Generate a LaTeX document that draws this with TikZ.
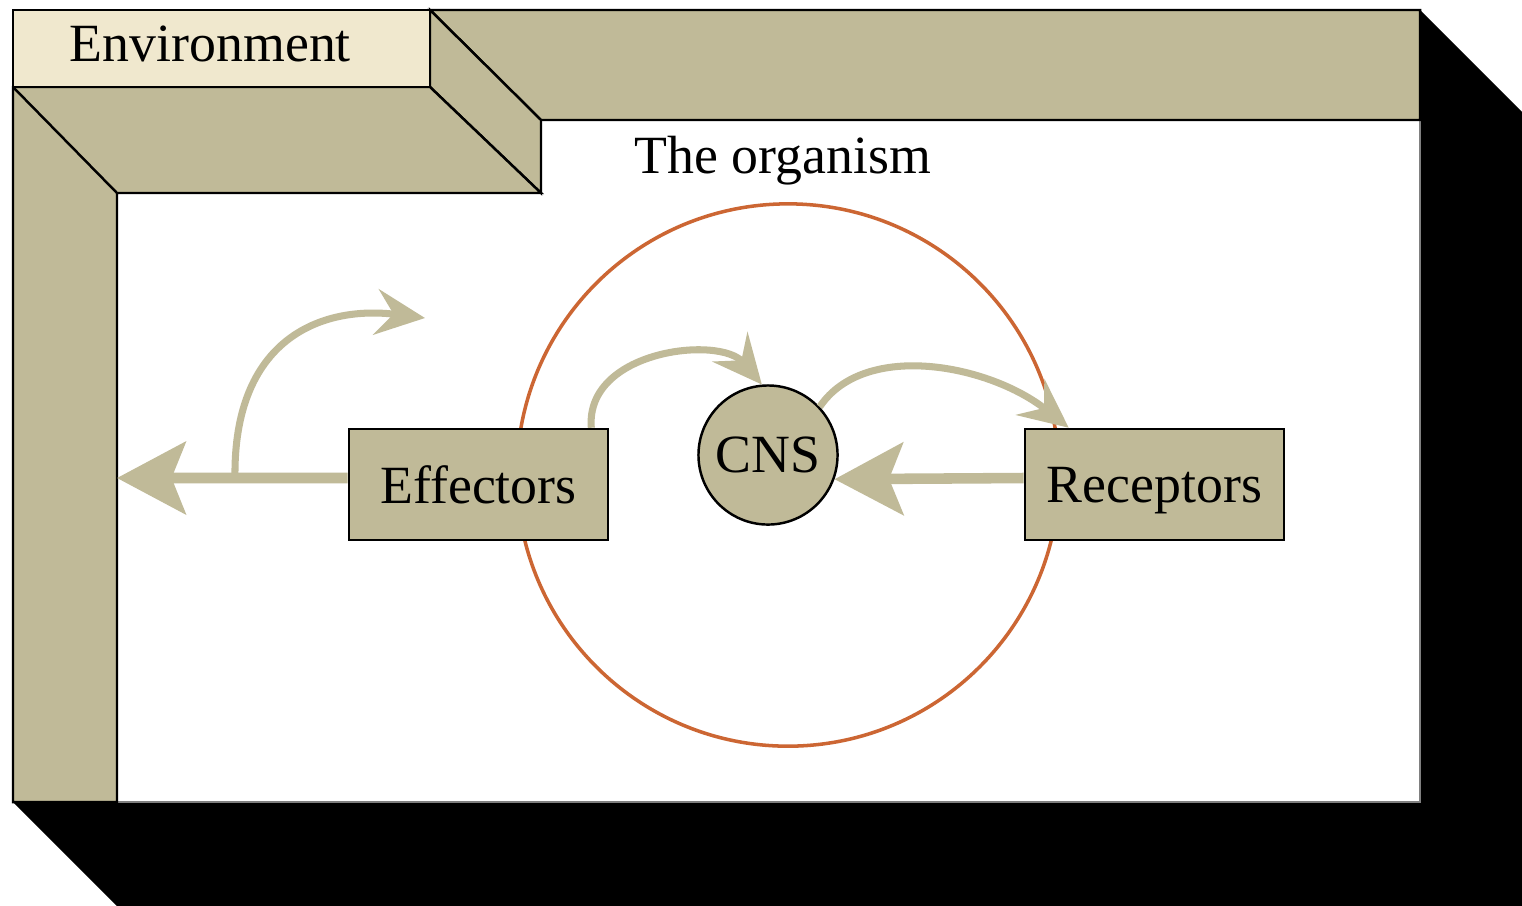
\documentclass[tikz,border=0pt]{standalone}
\usepackage{fontspec}
\setmainfont{Liberation Serif}
\usetikzlibrary{arrows.meta}
\definecolor{khaki}{HTML}{C0BA98}
\definecolor{cream}{HTML}{F0E8CE}
\definecolor{rust}{HTML}{CC6633}

\begin{document}
\begin{tikzpicture}[x=0.01cm, y=-0.01cm,
    every node/.style={font=\fontsize{15.3}{18}\selectfont},
    wall/.style={draw, line width=0.7pt, fill=khaki},
    box/.style={draw, line width=0.7pt, fill=khaki, minimum width=2.59cm, minimum height=1.11cm, text depth=0pt},
    flow/.style={draw=khaki, line width=3pt, -{Stealth[length=19.5pt, width=20.5pt, inset=4pt]}},
    bent flow/.style={draw=khaki, line width=2pt, -{Stealth[length=14pt, width=13pt, inset=5pt]}}]
    \useasboundingbox (0,0) rectangle (1522,905);
    \fill[white] (0,0) rectangle (1522,905);
    \clip (0,0) rectangle (1522,905);
    % shadow
    \fill (1420,10) -- (1530,120) -- (1530,912) -- (123,912) -- (13,802) -- (1420,802) -- cycle;
    \draw[line width=0.4pt, gray] (117,802) -- (1420,802) -- (1420,120);
    % environment walls
    \draw[wall] (430,10) -- (1420,10) -- (1420,120) -- (541,120) -- cycle;
    \draw[wall] (430,10) -- (541,120) -- (541,193) -- (430,87) -- cycle;
    \draw[wall] (13,87) -- (430,87) -- (541,193) -- (117,193) -- (117,802) -- (13,802) -- cycle;
    \draw[line width=0.7pt] (13,87) -- (117,193);
    \node[draw, line width=0.7pt, fill=cream, minimum height=0.77cm, inner xsep=0.57cm,
        text width=3.03cm, align=left, text depth=2.8pt] (env) at (221.5,48.5) {Environment};
    % organism
    \node (org) at (783,161) {The organism};
    \draw[rust, line width=1pt] (788,475) circle (2.71cm);
    \node[box] (eff) at (478.5,484.5) {Effectors};
    \node[box] (rec) at (1154.5,484.5) {Receptors};
    \node[draw, circle, line width=0.7pt, fill=khaki, minimum size=1.39cm, inner sep=0pt] (cns) at (768,455) {CNS};
    \coordinate (wall) at (117,478);
    \coordinate (fork) at (235,478);
    \coordinate (world) at (425,318);
    % arrows
    \draw[flow] ([yshift=0.065cm]eff.west) -- (wall);
    \draw[bent flow] (fork) .. controls (233,340) and (320,305) .. (world);
    \draw[bent flow] ([xshift=-0.18cm]eff.north east) .. controls (585,350) and (720,335) .. (cns.95);
    \draw[bent flow] (cns.43) .. controls (865,340) and (990,365) .. ([xshift=0.45cm]rec.north west);
    \draw[flow] ([yshift=0.065cm]rec.west) -- (cns.-20);
\end{tikzpicture}
\end{document}
